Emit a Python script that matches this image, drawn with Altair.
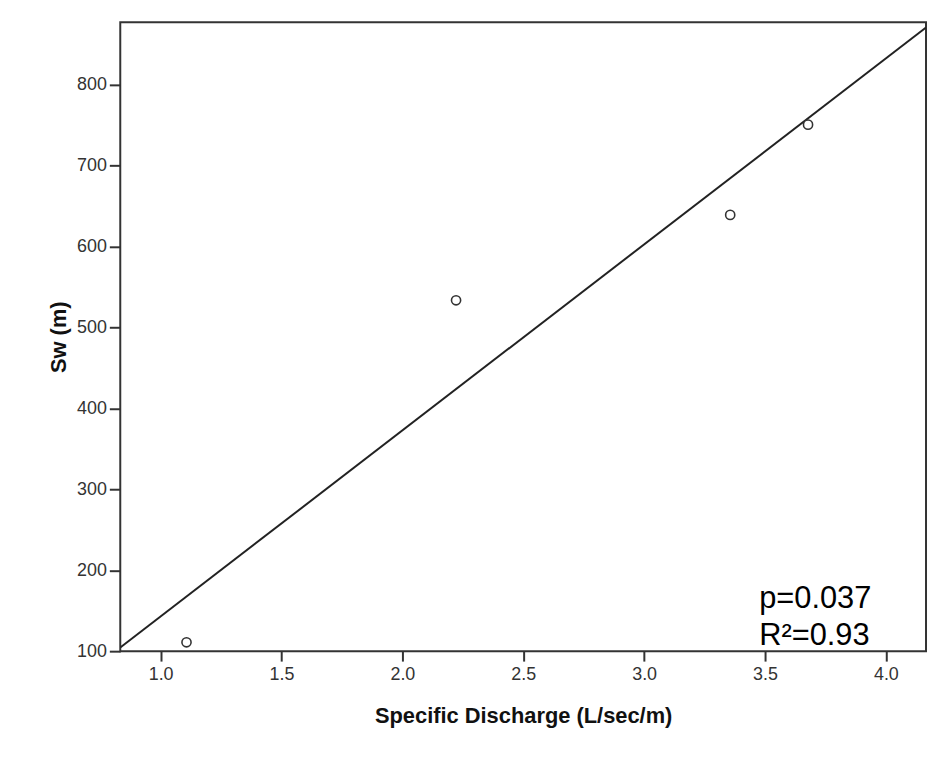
import altair as alt
import pandas as pd

# Data
discharge = [1.107, 2.222, 3.356, 3.678]
sw = [111, 533.5, 639, 750.5]

x_ticks = [1.0, 1.5, 2.0, 2.5, 3.0, 3.5, 4.0]
y_ticks = [100, 200, 300, 400, 500, 600, 700, 800]
x_domain = [0.833, 4.166]
y_domain = [100, 877]

ann_text = ["p=0.037", "R\u00b2=0.93"]
ann_x = [3.476, 3.476]
ann_y = [152.8, 107.4]

df = pd.DataFrame({"x": discharge, "y": sw})
ann = pd.DataFrame({"t": ann_text, "x": ann_x, "y": ann_y})

FONT = "Liberation Sans"

xs = alt.Scale(domain=x_domain, nice=False, zero=False)
ys = alt.Scale(domain=y_domain, nice=False, zero=False)

xaxis = alt.Axis(values=x_ticks, format=".1f", title="Specific Discharge (L/sec/m)",
                 grid=False, domain=False, tickSize=10, tickWidth=2, tickColor="#333",
                 labelPadding=5, labelFontSize=18, labelFont=FONT, labelColor="#333",
                 titleFont=FONT, titleFontSize=22, titleFontWeight="bold",
                 titleColor="#111", titlePadding=22)
yaxis = alt.Axis(values=y_ticks, format="d", title="Sw (m)",
                 grid=False, domain=False, tickSize=11, tickWidth=2, tickColor="#333",
                 labelPadding=3, labelFontSize=18, labelFont=FONT, labelColor="#333",
                 titleFont=FONT, titleFontSize=22, titleFontWeight="bold",
                 titleColor="#111", titlePadding=6)

base = alt.Chart(df)

line = base.transform_regression("x", "y", extent=x_domain).mark_line(
    color="#222", strokeWidth=2, clip=True
).encode(x=alt.X("x:Q", scale=xs, axis=xaxis), y=alt.Y("y:Q", scale=ys, axis=yaxis))

pts = base.mark_point(shape="circle", size=85, filled=True, fill="white",
                      stroke="#333", strokeWidth=1.6, opacity=1).encode(
    x=alt.X("x:Q", scale=xs), y=alt.Y("y:Q", scale=ys)
)

txt = alt.Chart(ann).mark_text(align="left", baseline="alphabetic", font=FONT,
                               fontSize=31, color="#000").encode(
    x=alt.X("x:Q", scale=xs), y=alt.Y("y:Q", scale=ys), text="t:N"
)

chart = alt.layer(line, pts, txt).properties(
    width=811, height=633,
    autosize=alt.AutoSizeParams(type="none"),
    padding={"left": 113, "top": 12, "right": 2, "bottom": 80},
    background="white",
).configure_view(stroke="#333", strokeWidth=2)

chart.save("out.html", embed_options={"renderer": "svg", "actions": False})
